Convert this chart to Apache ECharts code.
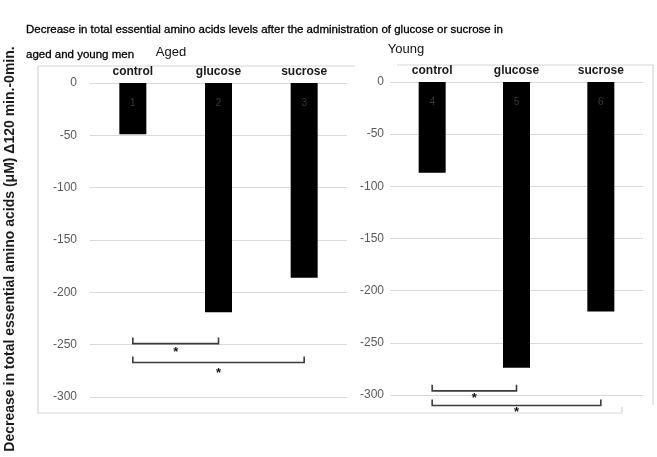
<!DOCTYPE html>
<html>
<head>
<meta charset="utf-8">
<style>
  html, body { margin: 0; padding: 0; background: #fff; }
  #chart { width: 657px; height: 457px; }
</style>
<script src="https://cdn.jsdelivr.net/npm/echarts@6/dist/echarts.min.js"></script>
</head>
<body>
<div id="chart"></div>
<script>
// Change in total essential amino acids (μM), 120 min minus 0 min
const categories = ['control', 'glucose', 'sucrose'];
const agedValues = [-49, -219, -186];
const youngValues = [-87, -274, -220];
const agedBarNumbers = ['1', '2', '3'];
const youngBarNumbers = ['4', '5', '6'];
const yTicks = { min: -300, max: 0, interval: 50 };

// Significance brackets: panel, first and last category index, bracket level, star level
const brackets = [
  { panel: 0, from: 0, to: 1, level: -249, star: -257 },
  { panel: 0, from: 0, to: 2, level: -267, star: -277 },
  { panel: 1, from: 0, to: 1, level: -296, star: -303 },
  { panel: 1, from: 0, to: 2, level: -310, star: -317 }
];

const FONT = '"Liberation Sans", Arial, sans-serif';
const chart = echarts.init(document.getElementById('chart'), null, { renderer: 'canvas' });

function yAxisCfg(gridIndex, margin) {
  return {
    type: 'value', gridIndex: gridIndex,
    min: yTicks.min, max: yTicks.max, interval: yTicks.interval,
    axisLine: { show: false }, axisTick: { show: false },
    axisLabel: { color: '#595959', fontSize: 12, fontFamily: FONT, margin: margin },
    splitLine: { lineStyle: { color: '#d9d9d9', width: 1 } }
  };
}

function xAxisCfg(gridIndex) {
  return {
    type: 'category', gridIndex: gridIndex, position: 'top', data: categories,
    axisLine: { show: false }, axisTick: { show: false },
    axisLabel: { color: '#1a1a1a', fontSize: 12, fontWeight: 'bold', fontFamily: FONT, margin: 5 }
  };
}

function barSeries(idx, values, numbers) {
  return {
    type: 'bar', xAxisIndex: idx, yAxisIndex: idx, data: values, barWidth: 27,
    itemStyle: { color: '#000' },
    label: {
      show: true, position: 'insideTop', distance: 15,
      formatter: p => numbers[p.dataIndex],
      color: '#3a3a3a', fontSize: 10, fontFamily: FONT
    }
  };
}

chart.setOption({
  animation: false,
  backgroundColor: '#fff',
  title: {
    text: 'Decrease in total essential amino acids levels after the administration of glucose or sucrose in\naged and young men',
    left: 21, top: 12,
    textStyle: {
      fontSize: 11.5, fontWeight: 'normal', color: '#000', fontFamily: FONT, lineHeight: 25,
      textBorderColor: '#000', textBorderWidth: 0.3
    }
  },
  grid: [
    { left: 90, top: 83, width: 257, height: 314 },
    { left: 390, top: 82, width: 253, height: 313 }
  ],
  xAxis: [xAxisCfg(0), xAxisCfg(1)],
  yAxis: [yAxisCfg(0, 13), yAxisCfg(1, 6)],
  series: [
    barSeries(0, agedValues, agedBarNumbers),
    barSeries(1, youngValues, youngBarNumbers)
  ]
});

// Panel frames, titles, vertical axis title and significance brackets
const frameColor = '#d6d6d6';
const graphics = [
  { type: 'polyline', shape: { points: [[38, 66], [355, 66]] }, style: { stroke: frameColor, lineWidth: 1.2 } },
  { type: 'polyline', shape: { points: [[397, 65], [653, 65], [653, 405]] }, style: { stroke: frameColor, lineWidth: 1.2 } },
  { type: 'polyline', shape: { points: [[38, 66], [38, 413], [622, 413], [622, 407]] }, style: { stroke: frameColor, lineWidth: 1.2 } },
  { type: 'text', x: 171, y: 52, style: { text: 'Aged', fontSize: 13, fontFamily: FONT, fill: '#111', align: 'center', verticalAlign: 'middle' } },
  { type: 'text', x: 406, y: 49, style: { text: 'Young', fontSize: 13, fontFamily: FONT, fill: '#111', align: 'center', verticalAlign: 'middle' } },
  {
    type: 'text', x: 10, y: 249, rotation: Math.PI / 2,
    style: {
      text: 'Decrease in total essential amino acids (\u03bcM) \u0394120 min.-0min.',
      fontSize: 14, fontWeight: 'bold', fontFamily: FONT, fill: '#1a1a1a', align: 'center', verticalAlign: 'middle'
    }
  }
];

brackets.forEach(b => {
  const p1 = chart.convertToPixel({ gridIndex: b.panel }, [b.from, b.level]);
  const p2 = chart.convertToPixel({ gridIndex: b.panel }, [b.to, b.level]);
  const ps = chart.convertToPixel({ gridIndex: b.panel }, [b.from, b.star]);
  const tick = 6;
  graphics.push({
    type: 'polyline',
    shape: { points: [[p1[0], p1[1] - tick], [p1[0], p1[1]], [p2[0], p2[1]], [p2[0], p2[1] - tick]] },
    style: { stroke: '#3c3c3c', lineWidth: 1.6, fill: null }
  });
  graphics.push({
    type: 'text', x: (p1[0] + p2[0]) / 2, y: ps[1],
    style: { text: '*', fontSize: 13, fontWeight: 'bold', fontFamily: FONT, fill: '#111', align: 'center', verticalAlign: 'middle' }
  });
});

chart.setOption({ graphic: graphics });
</script>
</body>
</html>
